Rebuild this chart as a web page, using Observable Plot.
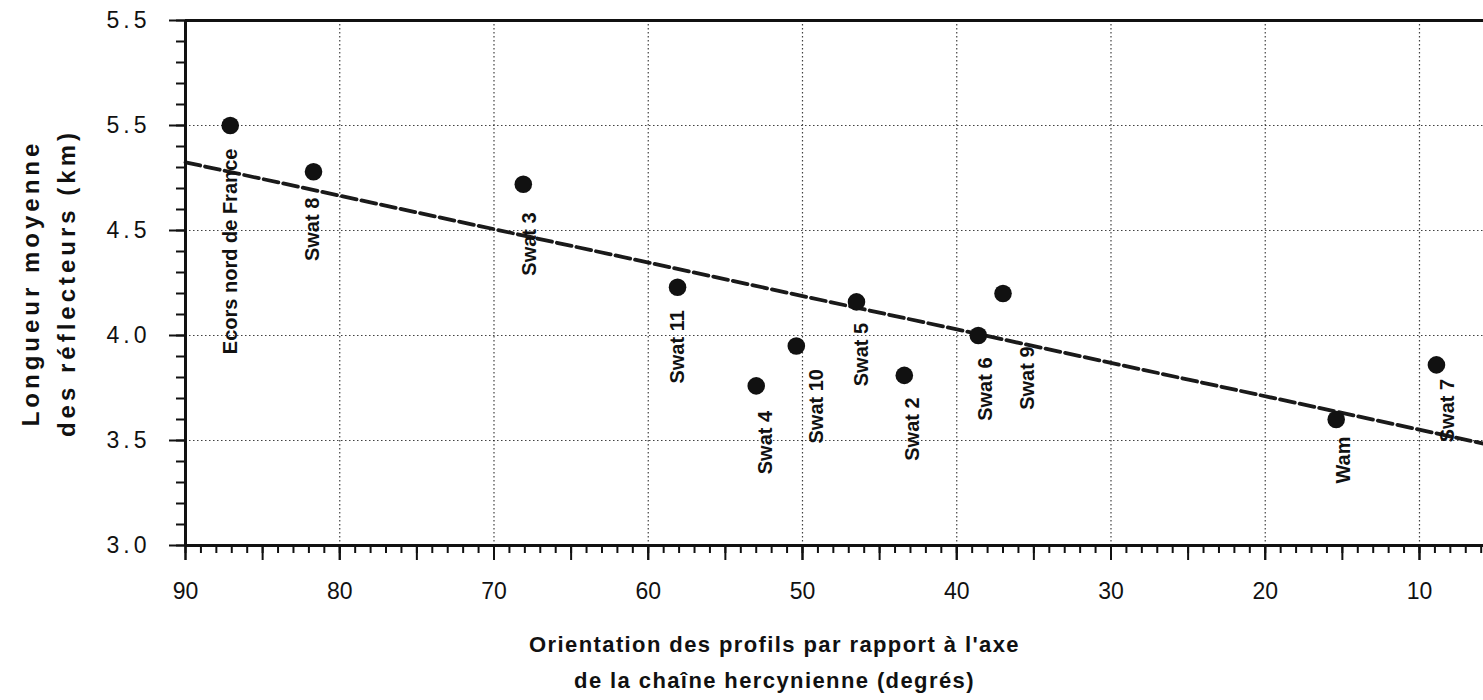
<!DOCTYPE html>
<html>
<head>
<meta charset="utf-8">
<script src="https://cdn.jsdelivr.net/npm/d3@7"></script>
<script src="https://cdn.jsdelivr.net/npm/@observablehq/plot@0.6"></script>
<style>
  body { margin: 0; background: #fff; }
  #chart svg { display: block; font-family: "Liberation Sans", Arial, Helvetica, sans-serif; }
</style>
</head>
<body>
<div id="chart"></div>
<script>
// Seismic profiles: orientation relative to the Hercynian chain axis (degrees)
// against the mean length of the reflectors (km).
const profiles = ["Ecors nord de France", "Swat 8", "Swat 3", "Swat 11", "Swat 4", "Swat 10",
                  "Swat 5", "Swat 2", "Swat 6", "Swat 9", "Wam", "Swat 7"];
const orientation = [87.1, 81.7, 68.1, 58.1, 53.0, 50.4, 46.5, 43.4, 38.6, 37.0, 15.4, 8.9];
const reflectorLength = [5.00, 4.78, 4.72, 4.23, 3.76, 3.95, 4.16, 3.81, 4.00, 4.20, 3.60, 3.86];

const xTickValues = [90, 80, 70, 60, 50, 40, 30, 20, 10];
const yTickValues = [3.0, 3.5, 4.0, 4.5, 5.0, 5.5];
const yTickLabels = ["3.0", "3.5", "4.0", "4.5", "5.5", "5.5"];

const xTitle = "Orientation des profils par rapport à l'axe\nde la chaîne hercynienne (degrés)";
const yTitle = "Longueur moyenne\ndes réflecteurs (km)";

// x runs from 90° on the left towards 0° on the right
const xDomain = [90, 5.85];
const yDomain = [3, 5.5];

const points = profiles.map((name, i) => ({name, x: orientation[i], y: reflectorLength[i]}));

// least-squares fit of length on orientation, drawn across the whole x range
const mx = d3.mean(orientation), my = d3.mean(reflectorLength);
const slope = d3.sum(orientation, (x, i) => (x - mx) * (reflectorLength[i] - my)) /
              d3.sum(orientation, x => (x - mx) ** 2);
const fit = xDomain.map(x => ({x, y: my + slope * (x - mx)}));

// where each vertical name sits relative to its dot (screen pixels)
const labelShift = {
  "Ecors nord de France": [0, 23], "Swat 8": [-1, 26], "Swat 3": [6, 28], "Swat 11": [0, 23],
  "Swat 4": [9, 25], "Swat 10": [20, 23], "Swat 5": [5, 21], "Swat 2": [8, 22],
  "Swat 6": [7, 22], "Swat 9": [25, 53], "Wam": [7, 17], "Swat 7": [11, 14]
};

const ink = "#111";
const gridStyle = {stroke: ink, strokeOpacity: 0.8, strokeWidth: 1.2, strokeDasharray: "1.5,2.5"};

const labelMarks = points.map(p => Plot.text([p], {
  x: "x", y: "y", text: "name", rotate: -90, textAnchor: "end",
  dx: labelShift[p.name][0], dy: labelShift[p.name][1],
  fontSize: 20, fontWeight: "bold", fill: ink
}));

const chart = Plot.plot({
  width: 1483,
  height: 700,
  marginLeft: 185,
  marginRight: 0,
  marginTop: 20,
  marginBottom: 155,
  style: {fontFamily: '"Liberation Sans", Arial, sans-serif', color: ink, background: "#fff"},
  x: {domain: xDomain, label: null},
  y: {domain: yDomain, label: null},
  marks: [
    Plot.gridX(xTickValues.filter(v => v !== 90), gridStyle),
    Plot.gridY(yTickValues.filter(v => v !== 3 && v !== 5.5), gridStyle),
    Plot.line(fit, {x: "x", y: "y", stroke: "#1a1a1a", strokeWidth: 3.8, strokeDasharray: "15,5"}),
    Plot.dot(points, {x: "x", y: "y", r: 8.8, fill: ink, stroke: "none"}),
    ...labelMarks,
    // frame: left axis, bottom axis and top edge
    Plot.ruleX([90], {stroke: ink, strokeWidth: 3}),
    Plot.ruleY([3], {stroke: ink, strokeWidth: 3}),
    Plot.ruleY([5.5], {stroke: ink, strokeWidth: 3}),
    // y axis: minor ticks every 0.1, labelled ticks every 0.5
    Plot.axisY(d3.range(30, 56).map(v => v / 10), {tickSize: 9, strokeWidth: 2, fill: "none", label: null}),
    Plot.axisY(yTickValues, {
      tickSize: 16, strokeWidth: 2, tickPadding: 19, fontSize: 23, label: null,
      tickFormat: v => yTickLabels[yTickValues.indexOf(v)]
    }),
    // x axis: ticks every degree, longer every 5, labels every 10
    Plot.axisX(d3.range(6, 91), {tickSize: 8, strokeWidth: 2, fill: "none", label: null}),
    Plot.axisX(d3.range(10, 91, 5), {tickSize: 15, strokeWidth: 2, fill: "none", label: null}),
    Plot.axisX(xTickValues, {tickSize: 15, strokeWidth: 2, tickPadding: 22, fontSize: 23, label: null}),
    // axis titles
    Plot.text([yTitle], {
      frameAnchor: "left", dx: -140, rotate: -90, textAnchor: "middle", text: d => d,
      fontSize: 24, fontWeight: "bold", lineHeight: 1.5, fill: ink
    }),
    Plot.text([xTitle], {
      frameAnchor: "bottom", dx: -60, dy: 82, lineAnchor: "top", text: d => d,
      fontSize: 22, fontWeight: "bold", lineHeight: 1.6, fill: ink
    })
  ]
});

document.getElementById("chart").append(chart);

// letter spacing for the spaced-out axis titles and y tick labels
d3.select(chart).selectAll("text").each(function () {
  const t = this.textContent;
  if (t.startsWith("Longueur")) this.setAttribute("letter-spacing", "4px");
  else if (t.startsWith("Orientation")) this.setAttribute("letter-spacing", "1.4px");
  else if (yTickLabels.includes(t)) this.setAttribute("letter-spacing", "4px");
});
</script>
</body>
</html>
